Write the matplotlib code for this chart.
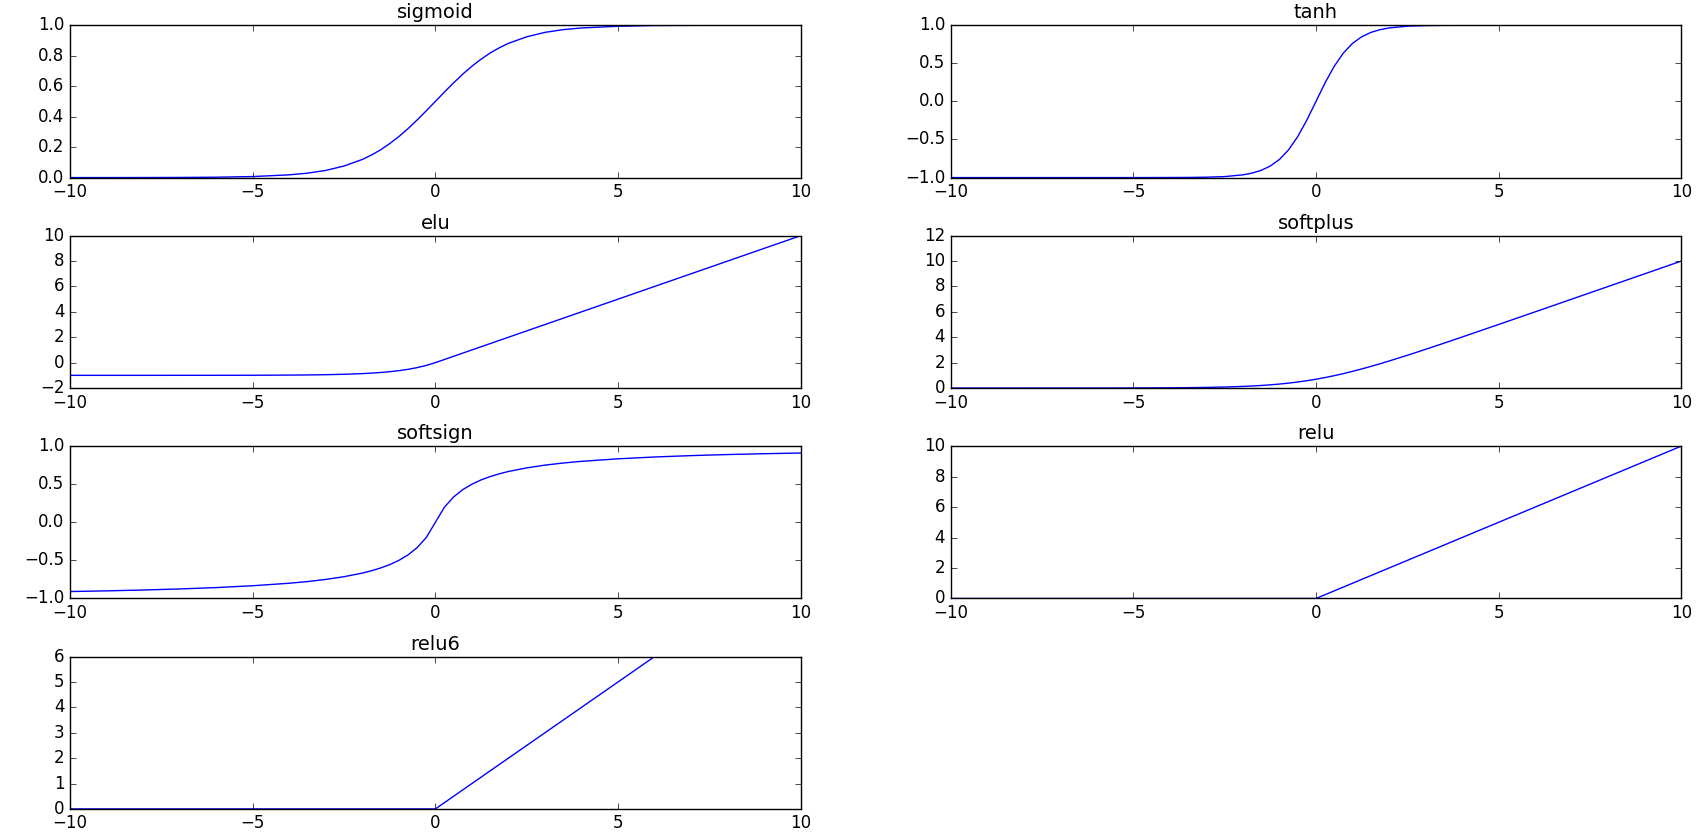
import matplotlib
matplotlib.use("Agg")
import matplotlib.pyplot as plt

plt.style.use("classic")

# sample points
x = [-10, -9, -8, -7, -6, -5, -4, -3.5, -3, -2.5, -2, -1.75, -1.5, -1.25, -1,
     -0.75, -0.5, -0.25, 0, 0.25, 0.5, 0.75, 1, 1.25, 1.5, 1.75, 2, 2.5, 3,
     3.5, 4, 5, 6, 7, 8, 9, 10]

sigmoid = [0.00005, 0.0001, 0.0003, 0.0009, 0.0025, 0.0067, 0.018, 0.029,
           0.047, 0.076, 0.119, 0.148, 0.182, 0.223, 0.269, 0.321, 0.378,
           0.438, 0.5, 0.562, 0.622, 0.679, 0.731, 0.777, 0.818, 0.852, 0.881,
           0.924, 0.953, 0.971, 0.982, 0.993, 0.998, 0.999, 1.0, 1.0, 1.0]

tanh = [-1.0, -1.0, -1.0, -1.0, -1.0, -1.0, -0.999, -0.998, -0.995, -0.987,
        -0.964, -0.941, -0.905, -0.848, -0.762, -0.635, -0.462, -0.245, 0.0,
        0.245, 0.462, 0.635, 0.762, 0.848, 0.905, 0.941, 0.964, 0.987, 0.995,
        0.998, 0.999, 1.0, 1.0, 1.0, 1.0, 1.0, 1.0]

elu = [-1.0, -1.0, -1.0, -0.999, -0.998, -0.993, -0.982, -0.970, -0.950,
       -0.918, -0.865, -0.826, -0.777, -0.713, -0.632, -0.528, -0.393, -0.221,
       0.0, 0.25, 0.5, 0.75, 1, 1.25, 1.5, 1.75, 2, 2.5, 3, 3.5, 4, 5, 6, 7,
       8, 9, 10]

softplus = [0.00005, 0.0001, 0.0003, 0.0009, 0.0025, 0.0067, 0.018, 0.030,
            0.049, 0.079, 0.127, 0.160, 0.201, 0.252, 0.313, 0.387, 0.474,
            0.576, 0.693, 0.826, 0.974, 1.137, 1.313, 1.502, 1.701, 1.910,
            2.127, 2.579, 3.049, 3.530, 4.018, 5.007, 6.002, 7.001, 8.0, 9.0,
            10.0]

softsign = [-0.909, -0.9, -0.889, -0.875, -0.857, -0.833, -0.8, -0.778, -0.75,
            -0.714, -0.667, -0.636, -0.6, -0.556, -0.5, -0.429, -0.333, -0.2,
            0.0, 0.2, 0.333, 0.429, 0.5, 0.556, 0.6, 0.636, 0.667, 0.714, 0.75,
            0.778, 0.8, 0.833, 0.857, 0.875, 0.889, 0.9, 0.909]

relu_x = [-10, 0, 10]
relu = [0, 0, 10]

relu6_x = [-10, 0, 6, 10]
relu6 = [0, 0, 6, 6]

panels = [
    ("sigmoid", x, sigmoid, (0, 1)),
    ("tanh", x, tanh, (-1, 1)),
    ("elu", x, elu, (-2, 10)),
    ("softplus", x, softplus, (0, 12)),
    ("softsign", x, softsign, (-1, 1)),
    ("relu", relu_x, relu, (0, 10)),
    ("relu6", relu6_x, relu6, (0, 6)),
]

fig = plt.figure(figsize=(17.07, 8.4), dpi=100, facecolor="white")
for i, (name, xs, ys, ylim) in enumerate(panels):
    ax = fig.add_subplot(4, 2, i + 1)
    ax.plot(xs, ys, color="b", linewidth=1.0)
    ax.set_xlim(-10, 10)
    ax.set_ylim(*ylim)
    ax.set_title(name, fontsize=14)
    ax.tick_params(labelsize=12)

plt.subplots_adjust(left=0.041, right=0.985, top=0.970, bottom=0.037,
                    wspace=0.205, hspace=0.381)
plt.savefig("out.png", dpi=100, facecolor="white")
